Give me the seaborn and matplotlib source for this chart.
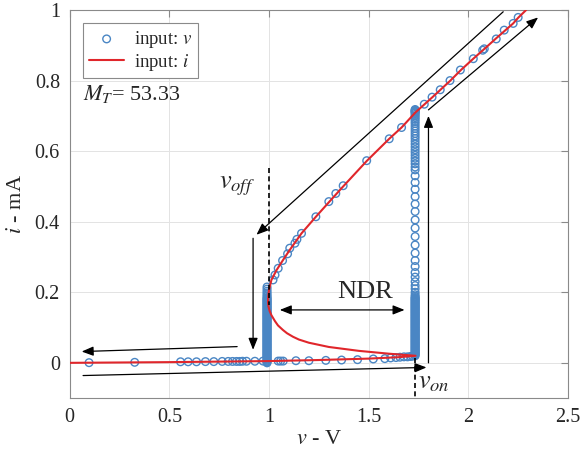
import numpy as np
import pandas as pd
import matplotlib
matplotlib.use("Agg")
import matplotlib.pyplot as plt
import seaborn as sns

sns.set_theme(style="whitegrid")
plt.rcParams["font.family"] = ["Liberation Serif", "DejaVu Serif"]
plt.rcParams["mathtext.fontset"] = "stix"

# red curve: current driven sweep
v_curve = [0, 0.25, 0.5, 0.75, 1.0, 1.25, 1.5, 1.65, 1.735,
           1.6, 1.45, 1.3, 1.2, 1.15, 1.12, 1.09, 1.07, 1.045, 1.03, 1.012,
           1.003, 0.997, 0.995, 0.996, 1.0, 1.012, 1.038, 1.071, 1.104, 1.163,
           1.235, 1.3, 1.372, 1.49, 1.603, 1.665, 1.735, 1.82, 1.91, 1.963,
           2.025, 2.075, 2.14, 2.225, 2.25, 2.29]
i_curve = [0, 0.001, 0.002, 0.0035, 0.005, 0.008, 0.012, 0.016, 0.02,
           0.026, 0.034, 0.045, 0.057, 0.066, 0.074, 0.084, 0.093, 0.106, 0.118, 0.135,
           0.147, 0.16, 0.172, 0.188, 0.207, 0.235, 0.263, 0.292, 0.32, 0.367,
           0.414, 0.455, 0.5, 0.572, 0.635, 0.667, 0.71, 0.753, 0.80, 0.83,
           0.862, 0.887, 0.92, 0.962, 0.978, 1.0]

# blue circles: voltage driven sweep
v_lower = [0.097, 0.326, 0.556, 0.594, 0.636, 0.681, 0.723, 0.765, 0.795, 0.817,
           0.837, 0.853, 0.867, 0.887, 0.929, 0.97, 1.046, 1.058, 1.071, 1.135,
           1.2, 1.285, 1.364, 1.444, 1.523, 1.581, 1.61, 1.637, 1.657, 1.677,
           1.695, 1.71, 1.72]
i_lower = [0.0005, 0.0015, 0.003, 0.003, 0.003, 0.0035, 0.0035, 0.004, 0.004, 0.004,
           0.004, 0.004, 0.0045, 0.0045, 0.0045, 0.005, 0.005, 0.005, 0.005, 0.006,
           0.006, 0.007, 0.008, 0.009, 0.011, 0.012, 0.014, 0.015, 0.016, 0.017,
           0.017, 0.018, 0.019]

v_upper = [1.02, 1.03, 1.046, 1.068, 1.093, 1.104, 1.13, 1.14, 1.163, 1.235,
           1.30, 1.335, 1.372, 1.49, 1.603, 1.665, 1.733, 1.779, 1.818, 1.859,
           1.908, 1.96, 2.025, 2.072, 2.08, 2.14, 2.18, 2.225, 2.25]
i_upper = [0.235, 0.249, 0.268, 0.29, 0.309, 0.325, 0.339, 0.35, 0.367, 0.414,
           0.457, 0.48, 0.502, 0.573, 0.635, 0.667, 0.712, 0.733, 0.753, 0.774,
           0.80, 0.83, 0.862, 0.886, 0.89, 0.918, 0.943, 0.962, 0.979]

v_on = 1.733
i_on_jump = [0.718, 0.716, 0.714, 0.711, 0.708, 0.704, 0.700, 0.695, 0.690, 0.684,
             0.678, 0.671, 0.664, 0.657, 0.650, 0.643, 0.636, 0.628, 0.620, 0.612,
             0.604, 0.596, 0.588, 0.580, 0.572, 0.564, 0.555, 0.547, 0.530, 0.511,
             0.492, 0.471, 0.450, 0.429, 0.405, 0.382, 0.358, 0.334, 0.311, 0.290,
             0.273, 0.256, 0.243, 0.230, 0.219, 0.210, 0.200, 0.193, 0.188,
             0.185, 0.1825, 0.180, 0.1775, 0.175, 0.1725, 0.170, 0.1675, 0.165, 0.1625,
             0.160, 0.1575, 0.155, 0.1525, 0.150, 0.1475, 0.145, 0.1425, 0.140, 0.1375,
             0.135, 0.1325, 0.130, 0.1275, 0.125, 0.1225, 0.120, 0.1175, 0.115, 0.1125,
             0.110, 0.1075, 0.105, 0.1025, 0.100, 0.0975, 0.095, 0.0925, 0.090, 0.0875,
             0.085, 0.0825, 0.080, 0.0775, 0.075, 0.0725, 0.070, 0.0675, 0.065, 0.0625,
             0.060, 0.0575, 0.055, 0.0525, 0.050, 0.0475, 0.045, 0.0425, 0.040, 0.0375,
             0.035, 0.0325, 0.030, 0.0275, 0.025, 0.0225, 0.020]

v_off = 0.99
i_off_jump = [0.215, 0.209, 0.203, 0.198, 0.193, 0.189,
              0.185, 0.1825, 0.180, 0.1775, 0.175, 0.1725, 0.170, 0.1675, 0.165, 0.1625,
              0.160, 0.1575, 0.155, 0.1525, 0.150, 0.1475, 0.145, 0.1425, 0.140, 0.1375,
              0.135, 0.1325, 0.130, 0.1275, 0.125, 0.1225, 0.120, 0.1175, 0.115, 0.1125,
              0.110, 0.1075, 0.105, 0.1025, 0.100, 0.0975, 0.095, 0.0925, 0.090, 0.0875,
              0.085, 0.0825, 0.080, 0.0775, 0.075, 0.0725, 0.070, 0.0675, 0.065, 0.0625,
              0.060, 0.0575, 0.055, 0.0525, 0.050, 0.0475, 0.045, 0.0425, 0.040, 0.0375,
              0.035, 0.0325, 0.030, 0.0275, 0.025, 0.0225, 0.020, 0.0175, 0.015, 0.0125,
              0.010, 0.0075, 0.005, 0.0025, 0.0]

x_ticks = [0, 0.5, 1, 1.5, 2, 2.5]
x_ticklabels = ["0", "0.5", "1", "1.5", "2", "2.5"]
y_ticks = [0, 0.2, 0.4, 0.6, 0.8, 1]
y_ticklabels = ["0", "0.2", "0.4", "0.6", "0.8", "1"]
M_T = 53.33

pts = pd.DataFrame({
    "v": v_lower + v_upper + [v_on] * len(i_on_jump) + [v_off] * len(i_off_jump),
    "i": i_lower + i_upper + i_on_jump + i_off_jump,
})

blue = "#4A86C4"
red = "#E0262B"

fig = plt.figure(figsize=(5.81, 4.55), dpi=100)
ax = fig.add_axes([0.12, 0.125, 0.8576, 0.853])

sns.scatterplot(data=pts, x="v", y="i", marker="o", s=30, facecolor="none",
                edgecolor=blue, linewidth=1.0, zorder=2, ax=ax)
sns.lineplot(x=v_curve, y=i_curve, sort=False, estimator=None, color=red,
             lw=1.5, zorder=3, ax=ax)

ax.set_xlim(0, 2.5)
ax.set_ylim(-0.1, 1)
ax.set_xticks(x_ticks)
ax.set_xticklabels(x_ticklabels)
ax.set_yticks(y_ticks)
ax.set_yticklabels(y_ticklabels)
ax.tick_params(direction="in", length=5, width=0.8, color="#8a8a8a",
               top=True, right=True, labelsize=14.5, labelcolor="#262626", pad=7)
ax.grid(True, color="#e3e3e3", lw=0.7)
for s in ax.spines.values():
    s.set_color("#8a8a8a")
    s.set_linewidth(0.8)
ax.set_xlabel("$v$ - V", fontsize=16, color="#262626", labelpad=2)
ax.set_ylabel("$i$ - mA", fontsize=16, color="#262626", labelpad=6)

# arrows and markers of the hysteresis loop
head = "-|>,head_length=0.5,head_width=0.2"
def arrow(tip, tail, style=head):
    ax.annotate("", xy=tip, xytext=tail,
                arrowprops=dict(arrowstyle=style, color="black", lw=0.9,
                                mutation_scale=14, shrinkA=0, shrinkB=0))

arrow((0.06, 0.032), (0.84, 0.046))
arrow((1.79, -0.013), (0.067, -0.036))
arrow((1.80, 0.70), (1.80, 0.0))
arrow((2.35, 0.979), (1.80, 0.717))
arrow((0.937, 0.363), (2.175, 0.995))
arrow((0.92, 0.037), (0.92, 0.353))
arrow((1.054, 0.15), (1.68, 0.15), style="<|-|>,head_length=0.5,head_width=0.2")

ax.plot([v_on, v_on], [0.015, -0.1], ls=(0, (3, 2)), color="black", lw=1.2, zorder=4)
ax.plot([1.0, 1.0], [0.551, 0.164], ls=(0, (3, 2)), color="black", lw=1.2, zorder=4)

ax.text(1.745, -0.058, "$v_{on}$", fontsize=19, ha="left", va="center")
ax.text(0.75, 0.50, "$v_{off}$", fontsize=19, ha="left", va="center")
ax.text(1.48, 0.20, "NDR", fontsize=19, ha="center", va="center")
ax.text(0.065, 0.762, "$M_T$= %.2f" % M_T, fontsize=16, ha="left", va="center")

handles = [ax.collections[0], ax.lines[0]]
leg = ax.legend(handles, ["input: $v$", "input: $i$"], loc="upper left",
                bbox_to_anchor=(0.027, 0.966), borderaxespad=0, fontsize=13.5,
                handlelength=1.9, fancybox=False, framealpha=1,
                edgecolor="#8a8a8a", borderpad=0.3, labelspacing=0.1,
                handletextpad=0.5)
leg.get_frame().set_linewidth(0.8)

fig.savefig("out.png", dpi=100)
